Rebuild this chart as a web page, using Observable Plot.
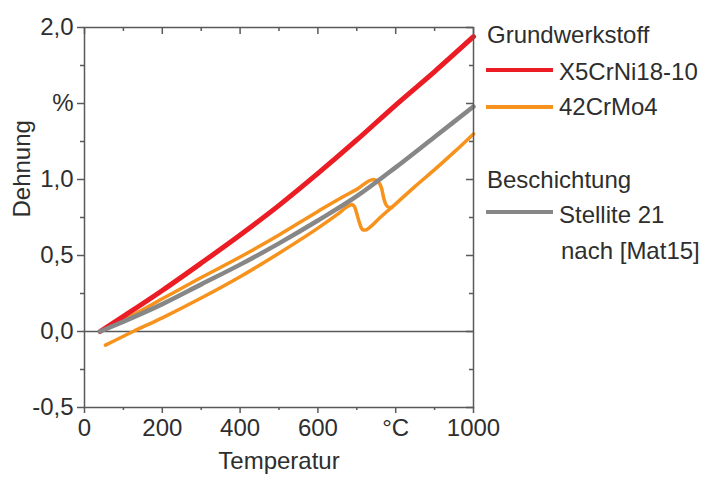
<!DOCTYPE html>
<html>
<head>
<meta charset="utf-8">
<script src="https://cdn.jsdelivr.net/npm/d3@7"></script>
<script src="https://cdn.jsdelivr.net/npm/@observablehq/plot@0.6"></script>
<style>
  body { margin: 0; background: white; }
</style>
</head>
<body>
<div id="chart"></div>
<script>
// --- data (temperature °C, strain %) ---
const redT   = [40, 100, 200, 300, 400, 500, 600, 700, 800, 900, 1000];
const redV   = [0, 0.1, 0.27, 0.45, 0.635, 0.83, 1.04, 1.26, 1.49, 1.71, 1.94];

const grayT  = [40, 100, 200, 300, 400, 500, 600, 700, 800, 900, 1000];
const grayV  = [0, 0.065, 0.18, 0.31, 0.44, 0.58, 0.73, 0.89, 1.08, 1.28, 1.48];

const heatT  = [40, 100, 200, 300, 400, 500, 600, 660, 700, 743, 755, 764, 769, 774, 781, 790];
const heatV  = [0, 0.075, 0.215, 0.355, 0.49, 0.635, 0.79, 0.88, 0.935, 1.0, 0.985, 0.94, 0.88, 0.84, 0.818, 0.815];

const coolT  = [1000, 950, 900, 850, 800, 760, 731, 722, 716, 711, 705, 700, 696, 692, 688, 680, 650, 600, 500, 400, 300, 200, 125, 54];
const coolV  = [1.30, 1.18, 1.065, 0.955, 0.84, 0.75, 0.68, 0.667, 0.667, 0.685, 0.73, 0.775, 0.81, 0.828, 0.835, 0.828, 0.77, 0.68, 0.515, 0.36, 0.22, 0.09, 0, -0.09];

const yMajor = [-0.5, 0, 0.5, 1, 1.5, 2];
const yMajorLabels = ["-0,5", "0,0", "0,5", "1,0", "%", "2,0"];
const yMinor = [-0.25, 0.25, 0.75, 1.25, 1.75];
const xMajor = [0, 200, 400, 600, 800, 1000];
const xMajorLabels = ["0", "200", "400", "600", "°C", "1000"];
const xMinor = [100, 300, 500, 700, 900];

const xTitle = "Temperatur";
const yTitle = "Dehnung";

const legendHeads = ["Grundwerkstoff", "Beschichtung"];
const legendItems = ["X5CrNi18-10", "42CrMo4", "Stellite 21"];
const legendExtra = "nach [Mat15]";

// --- build ---
const zip = (T, V, s) => T.map((t, i) => ({T: t, V: V[i], s}));
const red = zip(redT, redV, "red");
const gray = zip(grayT, grayV, "gray");
const heat = zip(heatT, heatV, "heat");
const cool = zip(coolT, coolV, "cool").slice().reverse();

const yLab = new Map(yMajor.map((d, i) => [d, yMajorLabels[i]]));
const xLab = new Map(xMajor.map((d, i) => [d, xMajorLabels[i]]));

const W = 703, H = 477, mL = 84, mR = 230, mT = 27, mB = 70;
const fw = W - mL - mR, fh = H - mT - mB;
const axisCol = "#595959";
const textCol = "#2e2e2e";
const FONT = "'Liberation Sans', Arial, sans-serif";
const RED = "#ec1c24", ORANGE = "#f7921c", GRAY = "#878787";

const chart = Plot.plot({
  width: W, height: H,
  marginLeft: mL, marginRight: mR, marginTop: mT, marginBottom: mB,
  x: {domain: [0, 1000]},
  y: {domain: [-0.5, 2]},
  style: {fontFamily: FONT, fontSize: "24px", color: textCol, background: "white"},
  marks: [
    Plot.ruleY([0], {stroke: axisCol, strokeWidth: 1.5}),
    Plot.line(heat, {x: "T", y: "V", stroke: ORANGE, strokeWidth: 3.5, curve: "monotone-x", strokeLinecap: "round", strokeLinejoin: "round"}),
    Plot.line(cool, {x: "T", y: "V", stroke: ORANGE, strokeWidth: 3.5, curve: "monotone-x", strokeLinecap: "round", strokeLinejoin: "round"}),
    Plot.line(red, {x: "T", y: "V", stroke: RED, strokeWidth: 5, curve: "monotone-x", strokeLinecap: "round"}),
    Plot.line(gray, {x: "T", y: "V", stroke: GRAY, strokeWidth: 4.5, curve: "monotone-x", strokeLinecap: "round"}),
    Plot.frame({stroke: axisCol, strokeWidth: 1.5}),
    Plot.axisY(yMajor, {anchor: "left", tickSize: 7, tickPadding: 4, tickFormat: d => yLab.get(d), label: null, stroke: axisCol, strokeWidth: 1.5}),
    Plot.axisY(yMinor, {anchor: "left", tickSize: 4, tickFormat: () => "", label: null, stroke: axisCol, strokeWidth: 1.5}),
    Plot.axisX(xMajor, {anchor: "bottom", tickSize: 6, tickPadding: 5, tickFormat: d => xLab.get(d), label: null, stroke: axisCol, strokeWidth: 1.5}),
    Plot.axisX(xMinor, {anchor: "bottom", tickSize: 3, tickFormat: () => "", label: null, stroke: axisCol, strokeWidth: 1.5}),
    Plot.tickY(yMajor, {y: d => d, insetLeft: fw - 7, stroke: axisCol, strokeWidth: 1.5}),
    Plot.tickY(yMinor, {y: d => d, insetLeft: fw - 4, stroke: axisCol, strokeWidth: 1.5}),
    Plot.tickX(xMajor, {x: d => d, insetBottom: fh - 7, stroke: axisCol, strokeWidth: 1.5}),
    Plot.tickX(xMinor, {x: d => d, insetBottom: fh - 4, stroke: axisCol, strokeWidth: 1.5}),
    Plot.text([xTitle], {text: d => d, frameAnchor: "bottom", dy: 61, fill: textCol}),
    Plot.text([yTitle], {text: d => d, frameAnchor: "left", dx: -62, rotate: -90, fill: textCol})
  ]
});

document.getElementById("chart").appendChild(chart);

// --- legend (right margin) ---
const svg = d3.select(chart);
const g = svg.append("g")
  .attr("font-family", FONT)
  .attr("font-size", 24)
  .attr("text-anchor", "start")
  .attr("fill", textCol);
g.append("text").attr("x", 487).attr("y", 43).text(legendHeads[0]);
const rows = [
  {label: legendItems[0], color: RED, ly: 70, ty: 80},
  {label: legendItems[1], color: ORANGE, ly: 107, ty: 115},
  {label: legendItems[2], color: GRAY, ly: 212, ty: 223}
];
g.append("text").attr("x", 487).attr("y", 188).text(legendHeads[1]);
for (const r of rows) {
  g.append("line").attr("x1", 486).attr("x2", 553).attr("y1", r.ly).attr("y2", r.ly)
    .attr("stroke", r.color).attr("stroke-width", 4);
  g.append("text").attr("x", 559).attr("y", r.ty).text(r.label);
}
g.append("text").attr("x", 561).attr("y", 259).text(legendExtra);
</script>
</body>
</html>
